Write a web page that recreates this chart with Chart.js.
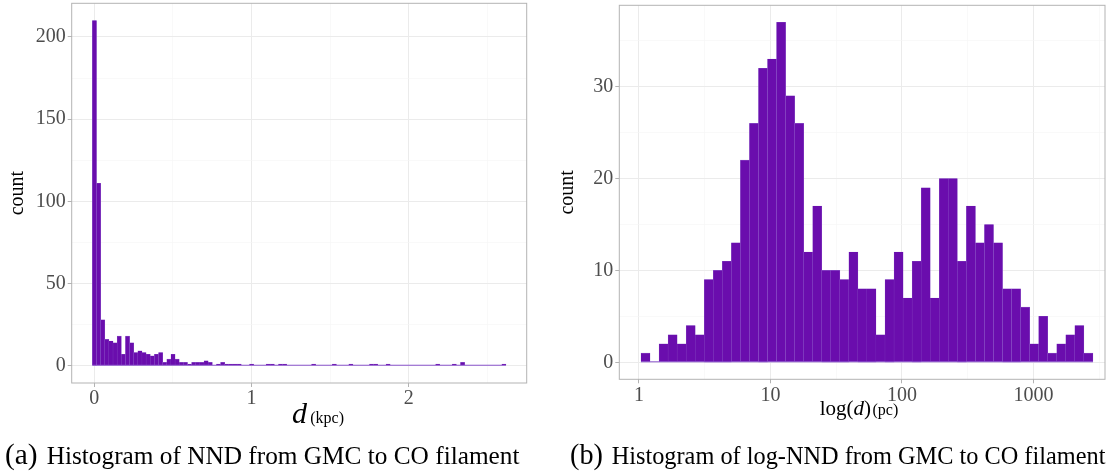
<!DOCTYPE html>
<html lang="en">
<head>
<meta charset="UTF-8">
<title>NND histograms</title>
<script src="https://cdn.jsdelivr.net/npm/chart.js@4"></script>
<style>
  body { margin: 0; width: 1107px; height: 473px; background: #fff; position: relative; overflow: hidden; font-family: "Liberation Serif", serif; color: #000; }
  canvas { position: absolute; top: 0; }
  #nnd { left: 0; }
  #lognnd { left: 545px; }
  .xtitle { position: absolute; white-space: nowrap; transform: translateX(-50%); }
  .caption { position: absolute; white-space: nowrap; font-size: 25px; transform-origin: 0 0; }
  .caption .tag { font-size: 29px; margin-right: 9px; }
</style>
</head>
<body>
<canvas id="nnd" width="545" height="473"></canvas>
<canvas id="lognnd" width="562" height="473"></canvas>

<div class="xtitle" style="left:318px; top:396px;"><i style="font-size:30px;">d</i><span style="font-size:16px;">&#8201;(kpc)</span></div>
<div class="xtitle" style="left:859px; top:396px;"><span style="font-size:21px;">log(<i>d</i>)</span><span style="font-size:16px;">&#8202;(pc)</span></div>

<div class="caption" data-width="515" style="left:5px; top:438px;"><span class="tag">(a)</span>Histogram of NND from GMC to CO filament</div>
<div class="caption" data-width="535" style="left:570px; top:438px;"><span class="tag">(b)</span>Histogram of log-NND from GMC to CO filament</div>

<script>
// nearest-neighbour distance, 100 bins in kpc
const nndCounts = [
  210, 111, 28, 16, 15, 14, 18, 7, 18, 14,
  8, 9, 8, 7, 6, 7, 8, 2, 4, 7,
  4, 2, 2, 1, 2, 2, 2, 3, 2, 0,
  1, 2, 1, 1, 1, 1, 0, 0, 1, 0,
  0, 0, 1, 1, 0, 1, 1, 0, 0, 0,
  0, 0, 0, 1, 0, 0, 0, 0, 1, 0,
  0, 0, 1, 0, 0, 0, 0, 1, 1, 0,
  0, 1, 0, 0, 0, 0, 0, 0, 0, 0,
  0, 0, 0, 1, 0, 0, 0, 1, 0, 2,
  0, 0, 0, 0, 0, 0, 0, 0, 0, 1
];
const nndBinStart = -0.0121;   // left edge of first bin (kpc)
const nndBinWidth = 0.02631;
const nndXTicks = [0, 1, 2];
const nndYTicks = [0, 50, 100, 150, 200];

// log10 of the distance in pc, 50 bins
const logCounts = [
  1, 0, 2, 3, 2, 4, 3, 9, 10, 11,
  13, 22, 26, 32, 33, 37, 29, 26, 12, 17,
  10, 10, 9, 12, 8, 8, 3, 9, 12, 7,
  11, 19, 7, 20, 20, 11, 17, 13, 15, 13,
  8, 8, 6, 2, 5, 1, 2, 3, 4, 1
];
const logBinStart = 0.0152;    // log10(pc)
const logBinWidth = 0.06874;
const logXTicks = [0, 1, 2, 3];          // shown as 1, 10, 100, 1000
const logXLabels = ['1', '10', '100', '1000'];
const logYTicks = [0, 10, 20, 30];

const FILL = '#6a0dad';
const EDGE = '#9468cf';
const FONT = '"Liberation Serif", serif';

// majors plus the half-way minor breaks inside [min, max]
function withMinor(major, min, max) {
  const step = major[1] - major[0];
  const out = [];
  for (let v = major[0] - step / 2; v <= max + 1e-9; v += step / 2) {
    if (v >= min - 1e-9) out.push(+v.toFixed(6));
  }
  return out;
}

function axis(pos, min, max, major, label, size) {
  const all = withMinor(major, min, max);
  const isMajor = v => major.includes(v);
  return {
    type: 'linear', position: pos, min, max, offset: false,
    afterBuildTicks: s => { s.ticks = all.map(v => ({ value: v })); },
    afterFit: s => {
      // fixed axis band, no extra room for overhanging labels
      if (pos === 'bottom') s.height = size; else s.width = size;
      s.paddingTop = s.paddingBottom = s.paddingLeft = s.paddingRight = 0;
    },
    grid: {
      offset: false,
      color: c => isMajor(c.tick.value) ? '#ebebeb' : '#f5f5f5',
      lineWidth: c => isMajor(c.tick.value) ? 1 : 0.6,
      tickColor: c => isMajor(c.tick.value) ? '#b3b3b3' : 'rgba(0,0,0,0)',
      tickLength: 4,
      drawTicks: true
    },
    border: { display: false },
    ticks: {
      autoSkip: false, maxRotation: 0, padding: pos === 'bottom' ? 0 : 2,
      color: '#4d4d4d', font: { family: FONT, size: 20 },
      callback: v => isMajor(v) ? label(v) : ''
    }
  };
}

// panel frame and the baseline of empty bins
const framePlugin = {
  id: 'frame',
  afterDatasetsDraw(chart, args, opts) {
    const { ctx, chartArea: a, scales } = chart;
    const x0 = scales.x.getPixelForValue(opts.start);
    const x1 = scales.x.getPixelForValue(opts.start + opts.n * opts.width);
    const y0 = scales.y.getPixelForValue(0);
    ctx.save();
    ctx.strokeStyle = '#8b55cc';
    ctx.lineWidth = 1;
    ctx.beginPath();
    ctx.moveTo(x0, y0 - 0.5);
    ctx.lineTo(x1, y0 - 0.5);
    ctx.stroke();
    ctx.strokeStyle = '#b3b3b3';
    ctx.lineWidth = 1;
    ctx.strokeRect(a.left, a.top, a.right - a.left, a.bottom - a.top);
    ctx.restore();
  }
};

function histogram(id, counts, start, width, xAxis, yAxis, padding) {
  const data = counts.map((c, i) => ({ x: start + (i + 0.5) * width, y: c }));
  return new Chart(document.getElementById(id), {
    type: 'bar',
    data: {
      datasets: [{
        data,
        backgroundColor: FILL,
        borderColor: EDGE,
        borderWidth: 0.35,
        barPercentage: 1,
        categoryPercentage: 1
      }]
    },
    options: {
      responsive: false,
      animation: false,
      devicePixelRatio: 1,
      layout: { padding },
      scales: { x: xAxis, y: yAxis },
      plugins: {
        legend: { display: false },
        tooltip: { enabled: false },
        frame: { start, width, n: counts.length }
      }
    },
    plugins: [framePlugin]
  });
}

function yTitle(pad) {
  return {
    display: true, text: 'count', color: '#000',
    font: { family: FONT, size: 20 }, padding: { top: pad, bottom: 0 }
  };
}

const nndX = axis('bottom', -0.1436, 2.7506, nndXTicks, v => String(v), 30);
const nndY = axis('left', -10.5, 220.5, nndYTicks, v => String(v), 71.7);
nndY.title = yTitle(6);
histogram('nnd', nndCounts, nndBinStart, nndBinWidth, nndX, nndY,
  { top: 3.3, right: 18.3, bottom: 60, left: 0 });

const logX = axis('bottom', -0.1498, 3.544, logXTicks, v => logXLabels[logXTicks.indexOf(v)], 30);
const logY = axis('left', -1.85, 38.85, logYTicks, v => String(v), 74.3);
logY.title = yTitle(11);
histogram('lognnd', logCounts, logBinStart, logBinWidth, logX, logY,
  { top: 5.3, right: 2, bottom: 63.7, left: 0 });

// stretch each caption to its line length
document.querySelectorAll('.caption').forEach(el => {
  const k = +el.dataset.width / el.offsetWidth;
  el.style.transform = 'scaleX(' + k.toFixed(4) + ')';
});
</script>
</body>
</html>
